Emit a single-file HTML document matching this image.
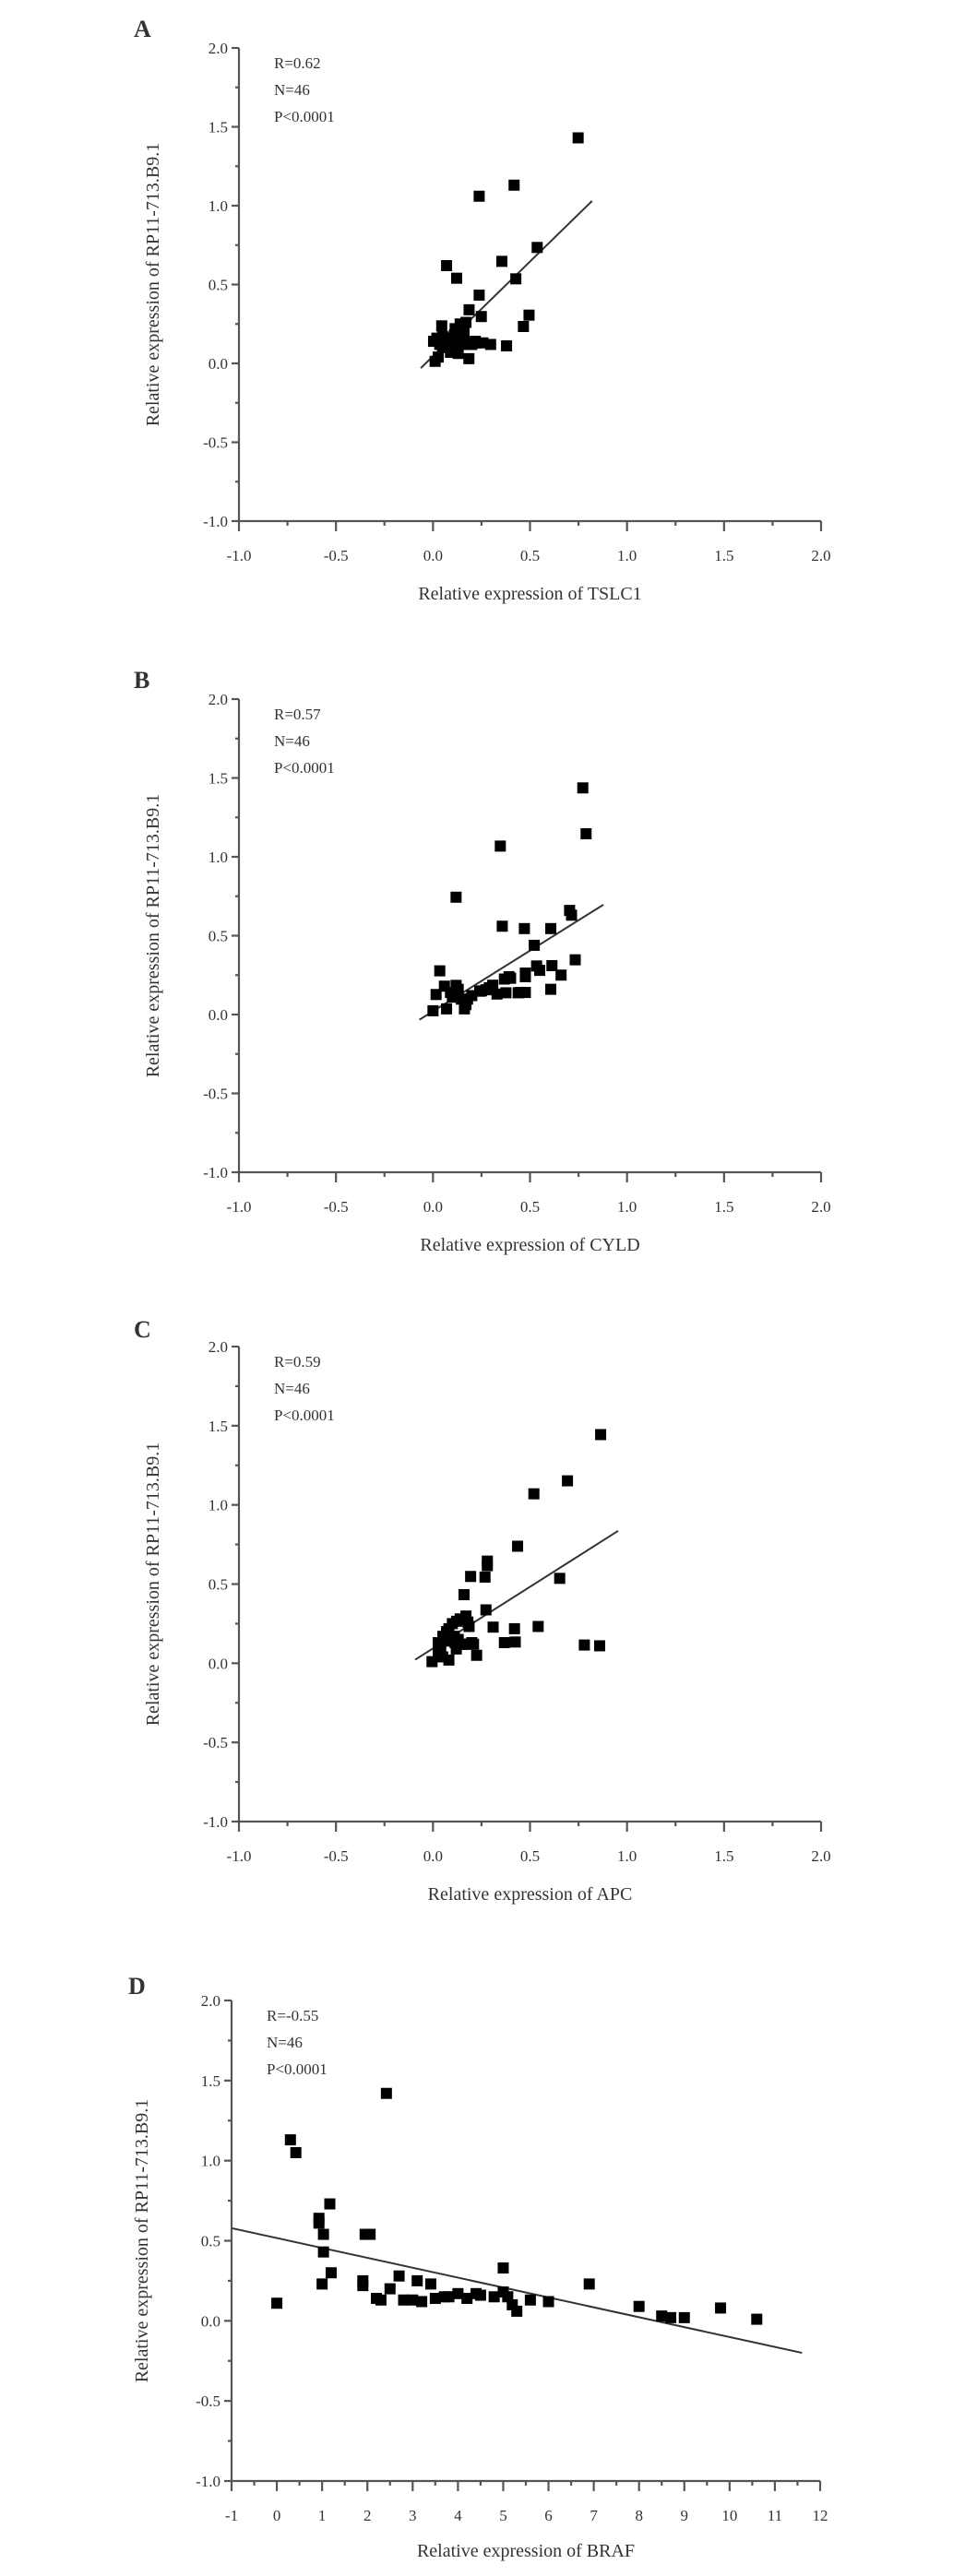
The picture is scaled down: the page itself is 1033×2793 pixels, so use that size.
<!DOCTYPE html>
<html><head><meta charset="utf-8"><style>
html,body{margin:0;padding:0;background:#fff;}
svg{display:block;}
text{font-family:"Liberation Serif",serif;fill:#333;}
</style></head><body>
<svg id="fig" width="1033" height="2793" viewBox="0 0 1033 2793" xmlns="http://www.w3.org/2000/svg"></svg>
<script>
// Panel A (TSLC1)
const aX=[0.748,0.418,0.238,0.537,0.355,0.07,0.122,0.427,0.238,0.186,0.249,0.495,0.466,0.045,0.17,0.14,0.114,0.379,0.297,0.257,0.218,0.003,0.035,0.08,0.11,0.14,0.17,0.05,0.13,0.185,0.011,0.027,0.06,0.09,0.2,0.1,0.16,0.12,0.07,0.15,0.02,0.09,0.13,0.19,0.22,0.05];
const aY=[1.43,1.13,1.06,0.735,0.647,0.62,0.54,0.536,0.433,0.34,0.297,0.306,0.234,0.238,0.26,0.25,0.22,0.111,0.12,0.13,0.14,0.14,0.12,0.16,0.18,0.16,0.13,0.10,0.063,0.03,0.013,0.04,0.13,0.15,0.12,0.11,0.19,0.09,0.14,0.12,0.16,0.07,0.14,0.12,0.13,0.17];
const aFit=[-0.063,-0.03,0.82,1.03];
// Panel B (CYLD)
const bX=[0.772,0.789,0.347,0.119,0.357,0.471,0.607,0.704,0.714,0.522,0.733,0.534,0.613,0.66,0.476,0.476,0.392,0.368,0.308,0.273,0.241,0.376,0.439,0.476,0.607,0.035,0.059,0.119,0.016,0.114,0.146,0.178,0.17,0.162,0.07,0.0,0.4,0.29,0.25,0.13,0.09,0.45,0.55,0.33,0.2,0.1];
const bY=[1.437,1.146,1.068,0.744,0.56,0.545,0.545,0.66,0.63,0.439,0.347,0.308,0.31,0.25,0.263,0.24,0.24,0.225,0.186,0.157,0.148,0.138,0.138,0.14,0.16,0.277,0.18,0.185,0.127,0.127,0.098,0.098,0.063,0.036,0.036,0.024,0.23,0.17,0.15,0.16,0.14,0.14,0.28,0.13,0.12,0.11];
const bFit=[-0.07,-0.033,0.878,0.696];
// Panel C (APC)
const cX=[0.864,0.693,0.52,0.436,0.28,0.28,0.194,0.268,0.653,0.16,0.273,0.17,0.122,0.186,0.31,0.42,0.542,0.082,0.051,0.027,0.114,0.178,0.209,0.368,0.424,0.78,0.859,0.225,0.027,-0.005,0.082,0.05,0.14,0.1,0.07,0.16,0.13,0.2,0.06,0.04,0.11,0.15,0.09,0.12,0.03,0.18];
const cY=[1.444,1.152,1.07,0.739,0.645,0.616,0.548,0.544,0.536,0.433,0.337,0.298,0.265,0.232,0.228,0.218,0.232,0.218,0.17,0.13,0.13,0.12,0.12,0.13,0.134,0.115,0.11,0.05,0.08,0.01,0.02,0.04,0.28,0.25,0.2,0.12,0.15,0.13,0.15,0.1,0.17,0.12,0.14,0.09,0.06,0.26];
const cFit=[-0.092,0.022,0.954,0.836];
// Panel D (BRAF)
const dX=[0.30,0.42,2.42,1.17,0.93,0.93,1.03,1.03,1.95,2.06,0.0,1.2,1.0,1.9,1.9,2.3,2.5,2.7,2.8,3.0,3.1,3.4,3.5,3.7,4.0,4.2,4.5,4.8,5.0,5.1,5.2,5.3,5.6,6.0,6.9,8.0,8.5,8.7,9.0,9.8,10.6,4.4,3.8,2.2,3.2,5.0];
const dY=[1.13,1.05,1.42,0.73,0.64,0.61,0.54,0.43,0.54,0.54,0.11,0.30,0.23,0.25,0.22,0.13,0.20,0.28,0.13,0.13,0.25,0.23,0.14,0.15,0.17,0.14,0.16,0.15,0.33,0.15,0.10,0.06,0.13,0.12,0.23,0.09,0.03,0.02,0.02,0.08,0.01,0.17,0.15,0.14,0.12,0.18];
const dFit=[-0.99,0.578,11.6,-0.2];

const yTicks=[-1.0,-0.5,0.0,0.5,1.0,1.5,2.0];
const fracTicks=[-1.0,-0.5,0.0,0.5,1.0,1.5,2.0];
const intTicks=[-1,0,1,2,3,4,5,6,7,8,9,10,11,12];
const NS='http://www.w3.org/2000/svg';
const svg=document.getElementById('fig');
function mk(tag,attrs,parent){const e=document.createElementNS(NS,tag);for(const k in attrs)e.setAttribute(k,attrs[k]);(parent||svg).appendChild(e);return e;}

function panel(cfg){
  const g=mk('g',{});
  
  
  const x0=cfg.ax, x1=cfg.axEnd, yTop=cfg.yTop, yBot=cfg.yBot;
  const sx=v=>x0+(v-cfg.xmin)/(cfg.xmax-cfg.xmin)*(x1-x0);
  const sy=v=>yBot-(v-(-1))/3*(yBot-yTop);
  const lt=mk('text',{x:cfg.lx,y:cfg.ly,'font-size':26,'font-weight':'bold'},g);lt.textContent=cfg.letter;
  
  
  const axes=mk('g',{stroke:'#555','stroke-width':2.2,fill:'none'},g);
  
  
  mk('line',{x1:x0,y1:yTop,x2:x0,y2:yBot},axes);
  mk('line',{x1:x0,y1:yBot,x2:x1,y2:yBot},axes);
  yTicks.forEach((t,i)=>{
    const y=sy(t);
    mk('line',{x1:x0-8,y1:y,x2:x0,y2:y},axes);
    if(i<yTicks.length-1){const ym=sy(t+0.25);mk('line',{x1:x0-4,y1:ym,x2:x0,y2:ym},axes);}
    const tx=mk('text',{x:x0-12,y:y+6,'font-size':17,'text-anchor':'end'},g);
    tx.textContent=t.toFixed(1);
    
    
  });
  const xt=cfg.xTicks;
  xt.forEach((t,i)=>{
    const x=sx(t);
    mk('line',{x1:x,y1:yBot,x2:x,y2:yBot+11},axes);
    if(i<xt.length-1){const xm=sx((t+xt[i+1])/2);mk('line',{x1:xm,y1:yBot,x2:xm,y2:yBot+5},axes);}
    const tx=mk('text',{x:x,y:yBot+43,'font-size':17,'text-anchor':'middle'},g);
    tx.textContent=cfg.intLabels?String(t):t.toFixed(1);
    
    
  });
  const xtit=mk('text',{x:(x0+x1)/2,y:cfg.xTitleY,'font-size':20,'text-anchor':'middle'},g);
  xtit.textContent='Relative expression of '+cfg.gene;
  
  
  const cy=(yTop+yBot)/2;
  const ytit=mk('text',{x:cfg.yTitleX,y:cy,'font-size':20,'text-anchor':'middle',transform:'rotate(-90 '+cfg.yTitleX+' '+cy+')'},g);
  ytit.textContent='Relative expression of RP11-713.B9.1';
  
  
  cfg.stats.forEach((s,i)=>{
    const t=mk('text',{x:x0+38,y:yTop+22+i*29,'font-size':17},g);t.textContent=s;
    
    
  });
  const f=cfg.fit;
  const fl=mk('line',{x1:sx(f[0]),y1:sy(f[1]),x2:sx(f[2]),y2:sy(f[3]),stroke:'#333','stroke-width':2},g);
  
  
  cfg.xs.forEach((v,i)=>{
    const r=mk('rect',{x:sx(v)-6,y:sy(cfg.ys[i])-6,width:12,height:12,fill:'#000'},g);
    
    
  });
}
panel({letter:'A',gene:'TSLC1',xs:aX,ys:aY,fit:aFit,stats:['R=0.62','N=46','P<0.0001'],ax:259,axEnd:890,yTop:52,yBot:565,xmin:-1,xmax:2,xTicks:fracTicks,lx:145,ly:40,xTitleY:650,yTitleX:172});
panel({letter:'B',gene:'CYLD',xs:bX,ys:bY,fit:bFit,stats:['R=0.57','N=46','P<0.0001'],ax:259,axEnd:890,yTop:758,yBot:1271,xmin:-1,xmax:2,xTicks:fracTicks,lx:145,ly:746,xTitleY:1356,yTitleX:172});
panel({letter:'C',gene:'APC',xs:cX,ys:cY,fit:cFit,stats:['R=0.59','N=46','P<0.0001'],ax:259,axEnd:890,yTop:1460,yBot:1975,xmin:-1,xmax:2,xTicks:fracTicks,lx:145,ly:1450,xTitleY:2060,yTitleX:172});
panel({letter:'D',gene:'BRAF',xs:dX,ys:dY,fit:dFit,stats:['R=-0.55','N=46','P<0.0001'],ax:251,axEnd:889,yTop:2169,yBot:2690,xmin:-1,xmax:12,xTicks:intTicks,intLabels:true,lx:139,ly:2162,xTitleY:2772,yTitleX:160});
</script>
</body></html>
